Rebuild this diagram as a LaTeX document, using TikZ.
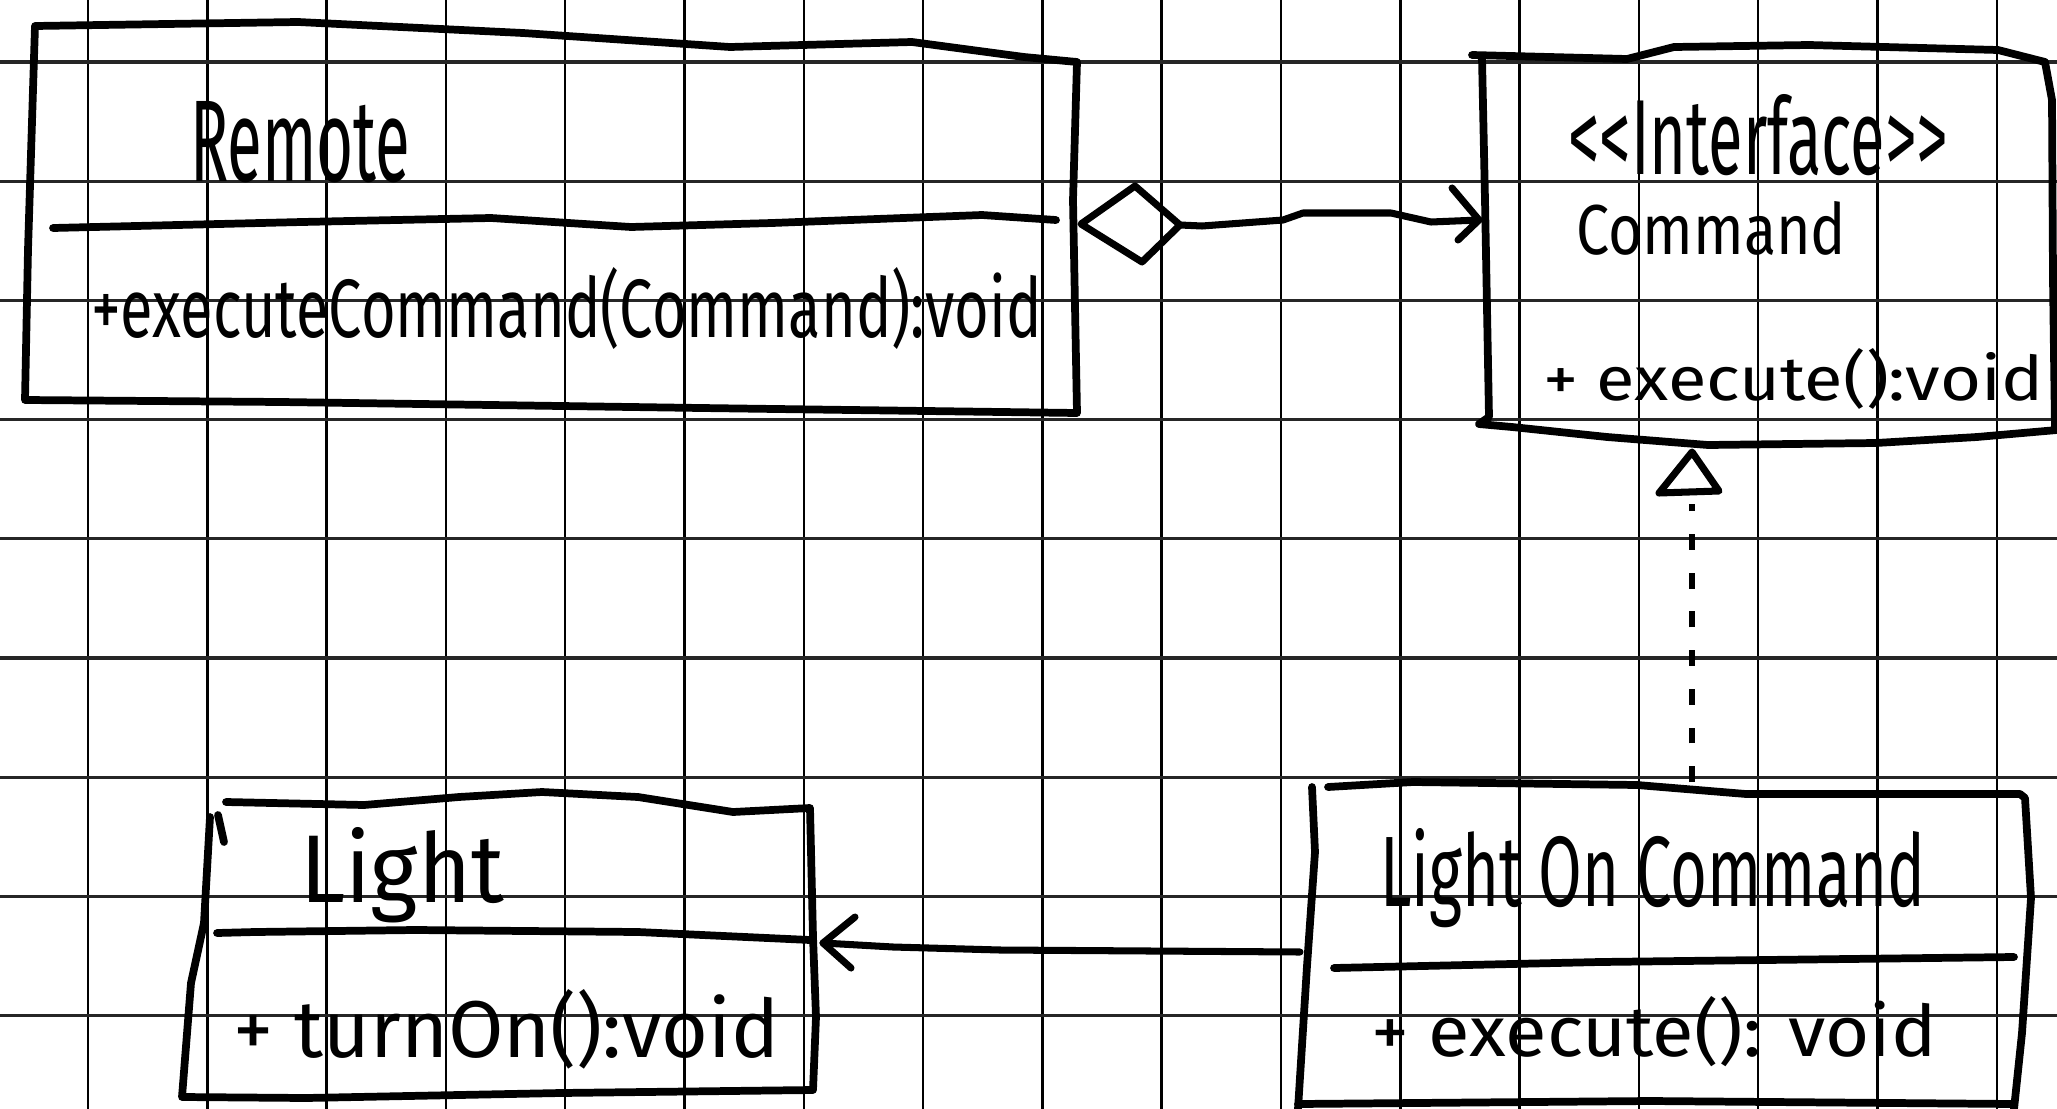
\documentclass[tikz,border=0pt]{standalone}
\usepackage{graphicx}
\usepackage{fontspec}
\setmainfont{Fira Sans}[Ligatures=NoCommon]
\tikzset{
  gridh/.style={draw=black!85, line width=0.9pt},
  gridv/.style={draw=black, line width=0.7pt},
  hand/.style={draw=black, line width=2.2pt, line join=round, line cap=round},
  conn/.style={draw=black, line width=2.0pt, line join=round, line cap=round},
  txt/.style={anchor=base west, inner sep=0pt, outer sep=0pt, text=black},
}
\newcommand{\hw}[3]{\resizebox{#1cm}{#2cm}{#3}}
\begin{document}
\begin{tikzpicture}[x=0.01cm, y=-0.01cm]
\useasboundingbox (0,0) rectangle (2057,1109);
\fill[white] (0,0) rectangle (2057,1109);
% grid
\foreach \i in {0,...,16} \draw[gridv] ({88+119.3*\i},0) -- ({88+119.3*\i},1109);
\foreach \j in {0,...,8} \draw[gridh] (0,{62+119.2*\j}) -- (2057,{62+119.2*\j});

% ---------- Remote ----------
\draw[hand] (35,26) -- (298,22) -- (523,33) -- (730,47) -- (912,42) -- (1024,57) -- (1077,62)
  -- (1073,200) -- (1077,413) -- (701,408) -- (281,402) -- (25,400) -- (28,250) -- cycle;
\draw[hand] (53,228) -- (302,222) -- (491,218) -- (631,227) -- (772,223) -- (982,215) -- (1056,220);
\node[txt] (remoteName) at (190,181) {\hw{2.20}{0.80}{Remote}};
\node[txt] (remoteOp) at (91,337) {\hw{9.50}{0.70}{+executeCommand(Command):void}};

% ---------- Command interface ----------
\draw[hand] (1472,55) -- (1627,59) -- (1674,47) -- (1809,45) -- (1998,50) -- (2045,62)
  -- (2052,100) -- (2053,280) -- (2055,430);
\draw[hand] (1482,58) -- (1485,200) -- (1489,417) -- (1479,424) -- (1512,427) -- (1607,437)
  -- (1708,445) -- (1876,443) -- (1977,437) -- (2057,430);
\node[txt] (cmdStereo) at (1568,174) {\hw{3.80}{0.80}{<{}<Interface>{}>}};
\node[txt] (cmdName) at (1576,254) {\hw{2.70}{0.53}{Command}};
\node[txt] (cmdOp) at (1543,400) {\hw{5.00}{0.52}{+ execute():void}};

% ---------- LightOnCommand ----------
\draw[hand] (1328,787) -- (1413,782) -- (1637,785) -- (1746,794) -- (2020,794) -- (2025,798)
  -- (2031,898) -- (2022,1033) -- (2014,1109);
\draw[hand] (1312,787) -- (1315,852) -- (1307,966) -- (1298,1109);
\draw[hand] (1298,1104) -- (1650,1101) -- (2014,1104);
\draw[hand] (1334,968) -- (1600,962) -- (2014,957);
\node[txt] (locName) at (1380,906) {\hw{5.45}{0.78}{Light On Command}};
\node[txt] (locOp) at (1371,1056) {\hw{5.65}{0.60}{+ execute(): void}};

% ---------- Light ----------
\draw[hand] (226,802) -- (364,805) -- (459,797) -- (542,792) -- (638,797) -- (733,812) -- (810,808)
  -- (813,937) -- (816,1017) -- (813,1090) -- (561,1093) -- (306,1098) -- (182,1097)
  -- (191,983) -- (204,923) -- (210,817);
\draw[hand] (218,815) -- (224,842);
\draw[hand] (217,933) -- (255,932) -- (415,930) -- (638,932) -- (810,940);
\node[txt] (lightName) at (300,902) {\hw{2.04}{0.75}{Light}};
\node[txt] (lightOp) at (233,1057) {\hw{5.46}{0.68}{+ turnOn():void}};

% ---------- connectors ----------
\coordinate (remoteR) at (1081,224);
\coordinate (cmdL) at (1479,220);
\coordinate (cmdB) at (1692,452);
\coordinate (locT) at (1692,782);
\coordinate (locL) at (1300,952);
\coordinate (lightR) at (823,943);

% aggregation Remote -> Command
\draw[conn] (remoteR) -- (1135,186) -- (1180,225) -- (1142,262) -- cycle;
\draw[conn] (1180,225) -- (1202,226) -- (1283,220) -- (1303,213) -- (1391,213) -- (1431,222) -- (cmdL);
\draw[conn] (1452,188) -- (cmdL) -- (1458,240);

% realization LightOnCommand -> Command
\draw[conn] (cmdB) -- (1659,493) -- (1719,491) -- cycle;
\draw[draw=black, line width=1.8pt, dash pattern=on 4.5pt off 6.5pt] (locT) -- (1692,504);

% association LightOnCommand -> Light
\draw[conn] (locL) -- (1000,950) -- (893,947) -- (lightR);
\draw[conn] (855,917) -- (lightR) -- (851,968);
\end{tikzpicture}
\end{document}
